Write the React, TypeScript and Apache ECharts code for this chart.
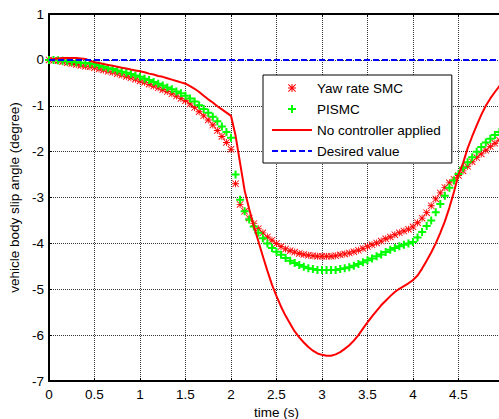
import React, { useEffect, useRef } from 'react';
import * as echarts from 'echarts';

const time = [
  0, 0.05, 0.1, 0.15, 0.2, 0.25, 0.3, 0.35, 0.4, 0.45,
  0.5, 0.55, 0.6, 0.65, 0.7, 0.75, 0.8, 0.85, 0.9, 0.95,
  1.0, 1.05, 1.1, 1.15, 1.2, 1.25, 1.3, 1.35, 1.4, 1.45,
  1.5, 1.55, 1.6, 1.65, 1.7, 1.75, 1.8, 1.85, 1.9, 1.95,
  2.0, 2.05, 2.1, 2.15, 2.2, 2.25, 2.3, 2.35, 2.4, 2.45,
  2.5, 2.55, 2.6, 2.65, 2.7, 2.75, 2.8, 2.85, 2.9, 2.95,
  3.0, 3.05, 3.1, 3.15, 3.2, 3.25, 3.3, 3.35, 3.4, 3.45,
  3.5, 3.55, 3.6, 3.65, 3.7, 3.75, 3.8, 3.85, 3.9, 3.95,
  4.0, 4.05, 4.1, 4.15, 4.2, 4.25, 4.3, 4.35, 4.4, 4.45,
  4.5, 4.55, 4.6, 4.65, 4.7, 4.75, 4.8, 4.85, 4.9, 4.95,
  5.0,
];

const yawRateSMC = [
  0, -0.01, -0.02, -0.04, -0.06, -0.08, -0.1, -0.12, -0.14, -0.15,
  -0.17, -0.2, -0.22, -0.25, -0.27, -0.3, -0.33, -0.36, -0.39, -0.42,
  -0.46, -0.49, -0.53, -0.57, -0.61, -0.65, -0.69, -0.74, -0.79, -0.84,
  -0.89, -0.96, -1.04, -1.13, -1.22, -1.31, -1.42, -1.54, -1.67, -1.8,
  -1.95, -2.7, -3.15, -3.3, -3.45, -3.57, -3.68, -3.77, -3.86, -3.93,
  -4.0, -4.07, -4.12, -4.16, -4.19, -4.22, -4.24, -4.26, -4.27, -4.28,
  -4.28, -4.28, -4.28, -4.27, -4.25, -4.23, -4.21, -4.18, -4.15, -4.11,
  -4.07, -4.03, -3.99, -3.95, -3.9, -3.86, -3.81, -3.77, -3.73, -3.69,
  -3.64, -3.55, -3.45, -3.33, -3.18, -3.03, -2.9, -2.78, -2.68, -2.6,
  -2.52, -2.42, -2.32, -2.22, -2.13, -2.05, -1.97, -1.89, -1.82, -1.75,
  -1.68,
];

const pismc = [
  0, 0.0, -0.01, -0.02, -0.03, -0.04, -0.05, -0.06, -0.07, -0.08,
  -0.09, -0.12, -0.15, -0.18, -0.2, -0.23, -0.26, -0.28, -0.31, -0.34,
  -0.37, -0.41, -0.44, -0.48, -0.52, -0.56, -0.6, -0.64, -0.69, -0.73,
  -0.78, -0.84, -0.91, -0.99, -1.07, -1.15, -1.24, -1.34, -1.45, -1.57,
  -1.7, -2.5, -3.05, -3.3, -3.48, -3.63, -3.77, -3.89, -4.0, -4.1,
  -4.18, -4.25, -4.32, -4.38, -4.43, -4.47, -4.51, -4.54, -4.56, -4.58,
  -4.58, -4.58, -4.58, -4.58, -4.56, -4.54, -4.52, -4.49, -4.45, -4.41,
  -4.37, -4.33, -4.28, -4.24, -4.19, -4.14, -4.1, -4.06, -4.03, -4.0,
  -3.97, -3.87, -3.75, -3.62, -3.5, -3.32, -3.14, -2.96, -2.79, -2.63,
  -2.49, -2.35, -2.23, -2.12, -2.0, -1.9, -1.8, -1.72, -1.64, -1.57,
  -1.5,
];

const noController = [
  0, 0.02, 0.03, 0.04, 0.04, 0.04, 0.04, 0.03, 0.02, -0.02,
  -0.05, -0.07, -0.09, -0.11, -0.13, -0.15, -0.17, -0.19, -0.21, -0.23,
  -0.25, -0.27, -0.3, -0.32, -0.35, -0.37, -0.4, -0.43, -0.46, -0.49,
  -0.52, -0.57, -0.63, -0.7, -0.78, -0.86, -0.93, -1.01, -1.08, -1.15,
  -1.22, -1.65, -2.25, -2.85, -3.25, -3.62, -3.95, -4.28, -4.6, -4.9,
  -5.15, -5.38, -5.58, -5.75, -5.92, -6.05, -6.16, -6.26, -6.34, -6.4,
  -6.43, -6.45, -6.45, -6.42, -6.37, -6.3, -6.22, -6.12, -6.0, -5.86,
  -5.72, -5.59, -5.47, -5.35, -5.25, -5.15, -5.06, -4.99, -4.93, -4.87,
  -4.8, -4.7, -4.55, -4.38, -4.2, -4.0, -3.77, -3.52, -3.22, -2.88,
  -2.5, -2.25, -1.93, -1.67, -1.43, -1.2, -1.0, -0.84, -0.7, -0.57,
  -0.46,
];

const desiredTime = [0, 5];
const desiredValue = [0, 0];

const seriesNames = ['Yaw rate SMC', 'PISMC', 'No controller applied', 'Desired value'];

const STAR =
  'path://M3.5,0H4.5V8H3.5Z M0,3.5H8V4.5H0Z M0.7,0L8,7.3L7.3,8L0,0.7Z M7.3,0L8,0.7L0.7,8L0,7.3Z';
const PLUS = 'path://M3,0H5V3H8V5H5V8H3V5H0V3H3Z';
const SOLID_LINE = 'path://M0,0H40V2H0Z';
const DASH_LINE =
  'path://M0,0H6V2H0Z M9,0H15V2H9Z M18,0H24V2H18Z M27,0H33V2H27Z M36,0H40V2H36Z';

const FONT = '"Liberation Sans", Arial, sans-serif';

export default function App() {
  const ref = useRef<HTMLDivElement>(null);
  useEffect(() => {
    document.body.style.margin = '0';
    const chart = echarts.init(ref.current!, null, { renderer: 'svg' });
    const pairs = (xs: number[], ys: number[]) => xs.map((x, i) => [x, ys[i]]);
    chart.setOption({
      animation: false,
      backgroundColor: '#fff',
      textStyle: { fontFamily: FONT },
      grid: { left: 49, top: 14, width: 455, height: 367, outerBoundsMode: 'none', containLabel: false },
      legend: {
        orient: 'vertical',
        left: 263,
        top: 75,
        padding: [6, 11, 5, 9],
        itemWidth: 40,
        itemHeight: 8,
        itemGap: 7,
        backgroundColor: '#fff',
        borderColor: '#000',
        borderWidth: 1,
        textStyle: { fontSize: 13.5, color: '#000', fontFamily: FONT },
        data: [
          { name: seriesNames[0], icon: STAR },
          { name: seriesNames[1], icon: PLUS },
          { name: seriesNames[2], icon: SOLID_LINE },
          { name: seriesNames[3], icon: DASH_LINE },
        ],
      },
      xAxis: [
        {
          type: 'value',
          position: 'bottom',
          min: 0,
          max: 5,
          interval: 0.5,
          name: 'time (s)',
          nameLocation: 'middle',
          nameGap: 23,
          nameTextStyle: { fontSize: 13.5, color: '#000', fontFamily: FONT },
          axisLine: { show: true, onZero: false, lineStyle: { color: '#000', width: 2 } },
          axisTick: { show: true, inside: true, length: 3, lineStyle: { color: '#000' } },
          axisLabel: {
            fontSize: 13.5,
            color: '#000',
            margin: 6,
            formatter: (v: number) => (v >= 5 ? '' : String(v)),
          },
          splitLine: { show: true, lineStyle: { color: '#333', type: [1, 1], width: 1 } },
        },
        {
          type: 'value',
          position: 'top',
          min: 0,
          max: 5,
          interval: 0.5,
          axisLine: { show: true, onZero: false, lineStyle: { color: '#000', width: 2 } },
          axisTick: { show: true, inside: true, length: 3, lineStyle: { color: '#000' } },
          axisLabel: { show: false },
          splitLine: { show: false },
        },
      ],
      yAxis: {
        type: 'value',
        min: -7,
        max: 1,
        interval: 1,
        name: 'vehicle body slip angle (degree)',
        nameLocation: 'middle',
        nameGap: 26,
        nameRotate: 90,
        nameTextStyle: { fontSize: 13.5, color: '#000', fontFamily: FONT },
        axisLine: { show: true, onZero: false, lineStyle: { color: '#000', width: 2 } },
        axisTick: { show: true, inside: true, length: 3, lineStyle: { color: '#000' } },
        axisLabel: { fontSize: 13.5, color: '#000', margin: 5 },
        splitLine: { show: true, lineStyle: { color: '#333', type: [1, 1], width: 1 } },
      },
      series: [
        {
          name: seriesNames[0],
          type: 'line',
          data: pairs(time, yawRateSMC),
          symbol: STAR,
          symbolSize: 7,
          showSymbol: true,
          itemStyle: { color: '#ff0000' },
          lineStyle: { width: 0, opacity: 0 },
          z: 2,
        },
        {
          name: seriesNames[1],
          type: 'line',
          data: pairs(time, pismc),
          symbol: PLUS,
          symbolSize: 8,
          showSymbol: true,
          itemStyle: { color: '#00ff00' },
          lineStyle: { width: 0, opacity: 0 },
          z: 3,
        },
        {
          name: seriesNames[2],
          type: 'line',
          data: pairs(time, noController),
          symbol: 'none',
          itemStyle: { color: '#ff0000' },
          lineStyle: { color: '#ff0000', width: 2 },
          z: 4,
        },
        {
          name: seriesNames[3],
          type: 'line',
          data: pairs(desiredTime, desiredValue),
          symbol: 'none',
          itemStyle: { color: '#0000ff' },
          lineStyle: { color: '#0000ff', width: 2, type: [6, 3] },
          z: 5,
        },
      ],
    });
    return () => chart.dispose();
  }, []);
  return (
    <div
      ref={ref}
      style={{ position: 'absolute', left: 0, top: 0, width: 499, height: 419, background: '#fff' }}
    />
  );
}
